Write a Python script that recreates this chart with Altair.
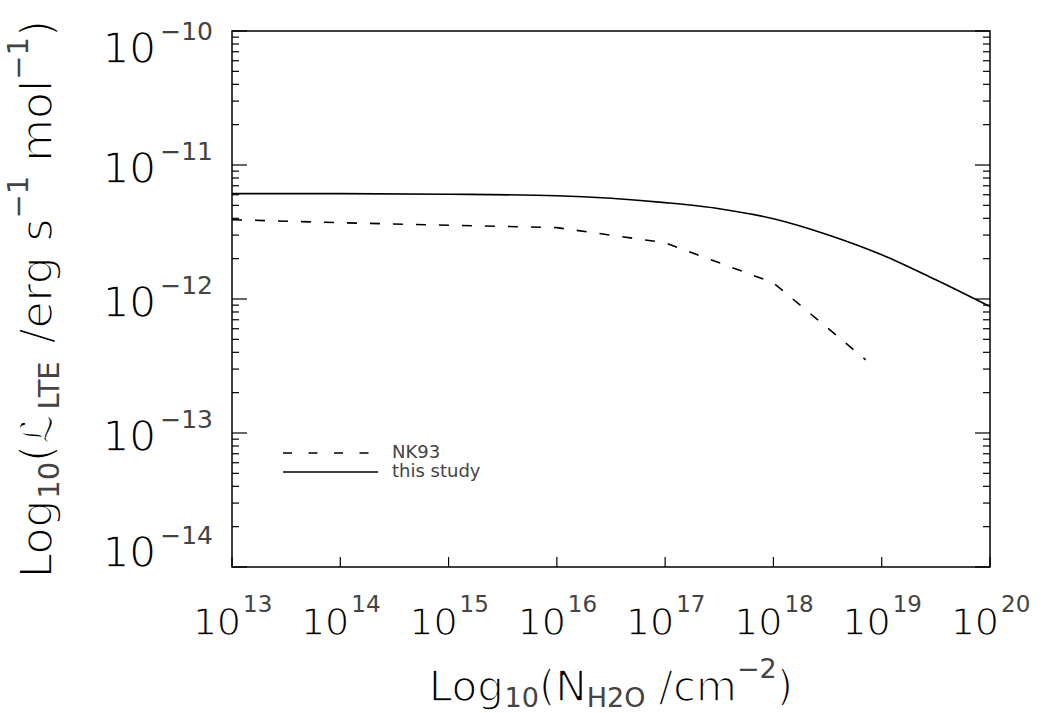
import altair as alt
import pandas as pd

# ---------------- data ----------------
x_tick_values = [1e13, 1e14, 1e15, 1e16, 1e17, 1e18, 1e19, 1e20]
x_tick_exponents = ["13", "14", "15", "16", "17", "18", "19", "20"]

y_tick_values = [1e-14, 1e-13, 1e-12, 1e-11, 1e-10]
y_tick_exponents = ["−14", "−13", "−12", "−11", "−10"]
y_minor_mult = [2, 3, 4, 5, 6, 7, 8, 9]
y_minor_decades = [1e-14, 1e-13, 1e-12, 1e-11]

nk93_N = [1e13, 1e14, 1e15, 1e16, 1e17, 1e18, 7.1e18]
nk93_L = [3.91e-12, 3.71e-12, 3.55e-12, 3.41e-12, 2.63e-12, 1.32e-12, 3.52e-13]

this_N = [1e13, 1e14, 1e15, 1e16, 3.16e16, 1e17, 3.16e17, 1e18, 3.16e18, 1e19, 3.16e19, 1e20]
this_L = [6.11e-12, 6.11e-12, 6.05e-12, 5.90e-12, 5.65e-12, 5.24e-12, 4.72e-12,
          3.97e-12, 3.02e-12, 2.14e-12, 1.39e-12, 8.77e-13]

legend_labels = ["NK93", "this study"]

# ---------------- tables ----------------
df_nk = pd.DataFrame({"N": nk93_N, "L": nk93_L})
df_this = pd.DataFrame({"N": this_N, "L": this_L})
df_xt = pd.DataFrame({"v": x_tick_values, "e": x_tick_exponents})
df_yt = pd.DataFrame({"v": y_tick_values, "e": y_tick_exponents})
df_ymin = pd.DataFrame({"v": [m * d for d in y_minor_decades for m in y_minor_mult]})

FONT = "DejaVu Sans"
W, H = 758, 536
SMALL_COLOR = "#444444"


def thin(size):
    # thin the glyph strokes of large text with a white outline (reference uses a thin stroke font)
    if size < 30:
        return {}
    return dict(stroke="white", strokeWidth=round(size * 0.038, 2), strokeOpacity=1)


xs = alt.Scale(type="log", domain=[1e13, 1e20], nice=False)
ys = alt.Scale(type="log", domain=[1e-14, 1e-10], nice=False)

X = lambda f: alt.X(f, scale=xs, axis=None)
Y = lambda f: alt.Y(f, scale=ys, axis=None)

layers = []

# curves
layers.append(alt.Chart(df_nk).mark_line(color="black", strokeWidth=1.6, strokeDash=[10, 13])
              .encode(x=X("N:Q"), y=Y("L:Q")))
layers.append(alt.Chart(df_this).mark_line(color="black", strokeWidth=1.6, interpolate="monotone")
              .encode(x=X("N:Q"), y=Y("L:Q")))

# y ticks (inward, both sides)
for src, ln in ((df_yt, 15), (df_ymin, 7)):
    layers.append(alt.Chart(src).mark_rule(color="black", strokeWidth=1.2)
                  .encode(y=Y("v:Q"), x=alt.value(0), x2=alt.value(ln)))
    layers.append(alt.Chart(src).mark_rule(color="black", strokeWidth=1.2)
                  .encode(y=Y("v:Q"), x=alt.value(W - ln), x2=alt.value(W)))

# x ticks (bottom, inward)
layers.append(alt.Chart(df_xt).mark_rule(color="black", strokeWidth=1.2)
              .encode(x=X("v:Q"), y=alt.value(H - 10), y2=alt.value(H)))

# x tick labels: "10" + exponent
layers.append(alt.Chart(df_xt).mark_text(text="10", align="right", baseline="alphabetic",
                                         fontSize=38, font=FONT, dx=9, color="black", **thin(38))
              .encode(x=X("v:Q"), y=alt.value(604)))
layers.append(alt.Chart(df_xt).mark_text(align="left", baseline="alphabetic",
                                         fontSize=23, font=FONT, dx=11, color=SMALL_COLOR)
              .encode(x=X("v:Q"), y=alt.value(581), text="e:N"))

# y tick labels (ends flush with the frame)
groups = [("datum.v > 2e-14 && datum.v < 5e-11", 18, -5),
          ("datum.v < 2e-14", 0, -23),
          ("datum.v > 5e-11", 32, 9)]
for flt, dyb, dye in groups:
    layers.append(alt.Chart(df_yt).transform_filter(flt)
                  .mark_text(text="10", align="right", baseline="alphabetic", fontSize=42,
                             font=FONT, dy=dyb, color="black", **thin(42))
                  .encode(y=Y("v:Q"), x=alt.value(-76)))
    layers.append(alt.Chart(df_yt).transform_filter(flt)
                  .mark_text(align="right", baseline="alphabetic", fontSize=25,
                             font=FONT, dy=dye, color=SMALL_COLOR)
                  .encode(y=Y("v:Q"), x=alt.value(-19), text="e:N"))

# legend (inside plot)
df_leg1 = pd.DataFrame({"t": [legend_labels[0]]})
df_leg2 = pd.DataFrame({"t": [legend_labels[1]]})
layers.append(alt.Chart(df_leg1).mark_rule(color="black", strokeWidth=1.5, strokeDash=[9, 16.5])
              .encode(x=alt.value(51), x2=alt.value(137), y=alt.value(422)))
layers.append(alt.Chart(df_leg2).mark_rule(color="black", strokeWidth=1.5)
              .encode(x=alt.value(51), x2=alt.value(146), y=alt.value(441)))
layers.append(alt.Chart(df_leg1).mark_text(align="left", baseline="middle", fontSize=18,
                                           font=FONT, color=SMALL_COLOR)
              .encode(x=alt.value(160), y=alt.value(422), text="t:N"))
layers.append(alt.Chart(df_leg2).mark_text(align="left", baseline="middle", fontSize=18,
                                           font=FONT, color=SMALL_COLOR)
              .encode(x=alt.value(160), y=alt.value(441), text="t:N"))

# axis titles composed of pieces (main / subscript / superscript); " " pieces are gaps
EM = {'L': 0.557, 'o': 0.612, 'g': 0.635, '1': 0.636, '0': 0.636, '2': 0.636, '(': 0.390,
      ')': 0.390, 'N': 0.748, 'H': 0.752, 'O': 0.787, ' ': 0.318, '/': 0.337,
      'c': 0.550, 'm': 0.974, '−': 0.838, 'e': 0.615, 'r': 0.411, 's': 0.521, 'l': 0.278,
      'T': 0.611, 'E': 0.632, 'ℒ': 0.80}


def width(t, s):
    return sum(EM.get(c, 0.6) for c in t) * s


XM, XS = 42, 27
YM, YS = 44, 29
x_title = [("Log", XM, 0), ("10", XS, 6), ("(N", XM, 0), ("H2O", XS, 6), (" ", XM, 0),
           ("/cm", XM, 0), ("−2", XS, -23), (")", XM, 0)]
y_title = [("Log", YM, 0), ("10", YS, 7), ("(", YM, 0), ("ℒ", YM, 0), ("LTE", YS, 7),
           (" ", YM, 0), ("/erg", YM, 0), (" ", YM, 0), ("s", YM, 0), ("−1", YS, -24),
           (" ", YM, 0), ("mol", YM, 0), ("−1", YS, -24), (")", YM, 0)]


def title_layers(pieces, ax, ay, angle):
    out = []
    off = 0.0
    for txt, size, shift in pieces:
        if txt.strip():
            kw = dict(align="left", baseline="alphabetic", fontSize=size, font=FONT,
                      color="black" if size >= 30 else SMALL_COLOR, dx=off, dy=shift, **thin(size))
            if angle:
                kw["angle"] = angle
            out.append(alt.Chart(pd.DataFrame({"t": [txt]})).mark_text(**kw)
                       .encode(x=alt.value(ax), y=alt.value(ay), text="t:N"))
        off += width(txt, size)
    return out


xt_total = sum(width(t, s) for t, s, _ in x_title)
yt_total = sum(width(t, s) for t, s, _ in y_title)
layers += title_layers(x_title, W / 2 - xt_total / 2, 670, 0)
layers += title_layers(y_title, -180, H / 2 + yt_total / 2, 270)

chart = (alt.layer(*layers)
         .properties(width=W, height=H,
                     padding={"left": 232, "top": 31, "right": 51, "bottom": 146},
                     autosize=alt.AutoSizeParams(type="none"),
                     background="white")
         .configure_view(stroke="black", strokeWidth=1.5))

chart.save("out.html", embed_options={"renderer": "svg", "actions": False})
